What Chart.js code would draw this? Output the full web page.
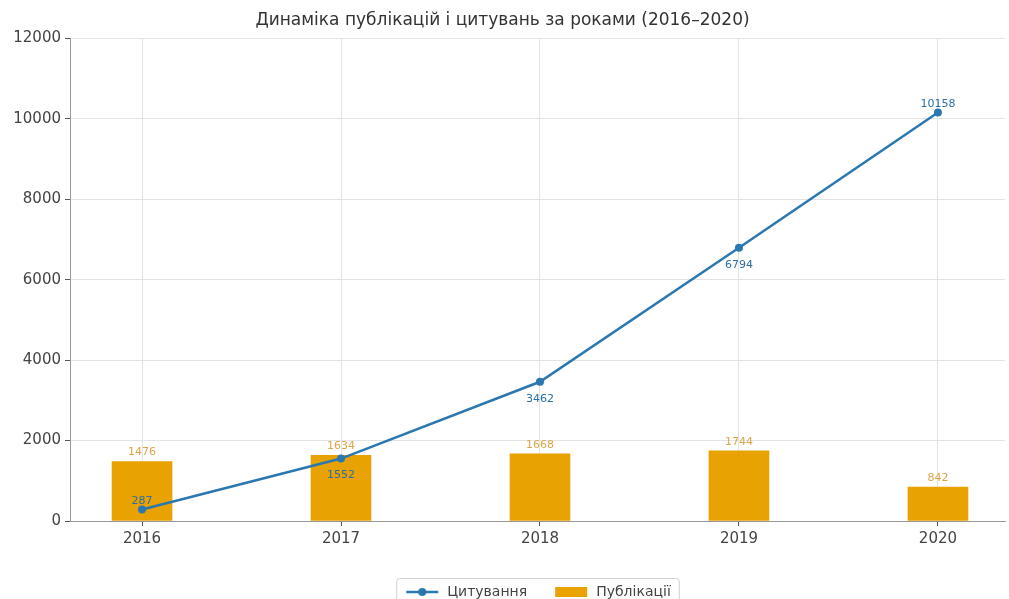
<!DOCTYPE html>
<html>
<head>
<meta charset="utf-8">
<script src="https://cdn.jsdelivr.net/npm/chart.js@4"></script>
<style>
  html, body { margin: 0; padding: 0; background: #fff; }
  #wrap { width: 1009px; height: 599px; }
</style>
</head>
<body>
<div id="wrap"><canvas id="myChart"></canvas></div>
<script>
// Data
const years = [2016, 2017, 2018, 2019, 2020];
const citations = [287, 1552, 3462, 6794, 10158];
const publications = [1476, 1634, 1668, 1744, 842];
const yTicks = [0, 2000, 4000, 6000, 8000, 10000, 12000];

const lineColor = "#2b78b0";
const barColor = "#e8a202";

// Small legend icons (line with a dot, and a filled box)
function lineIcon() {
    let c = document.createElement("canvas");
    c.width = 36; c.height = 12;
    let ctx = c.getContext("2d");
    ctx.strokeStyle = lineColor;
    ctx.lineWidth = 2.5;
    ctx.beginPath(); ctx.moveTo(2, 6); ctx.lineTo(34, 6); ctx.stroke();
    ctx.fillStyle = lineColor;
    ctx.beginPath(); ctx.arc(18, 6, 4, 0, Math.PI * 2); ctx.fill();
    return c;
}
function boxIcon() {
    let c = document.createElement("canvas");
    c.width = 36; c.height = 12;
    let ctx = c.getContext("2d");
    ctx.fillStyle = barColor;
    ctx.fillRect(2, 1, 32, 10);
    return c;
}

// Value labels next to bars and points
const valueLabels = {
    id: "valueLabels",
    afterDatasetsDraw(chart) {
        const ctx = chart.ctx;
        ctx.save();
        ctx.font = "11px 'DejaVu Sans'";
        ctx.textAlign = "center";
        ctx.textBaseline = "middle";

        let barMeta = chart.getDatasetMeta(1);
        barMeta.data.forEach((el, i) => {
            ctx.fillStyle = "#d9a64a";
            ctx.fillText(publications[i], el.x, el.y - 9);
        });

        let lineMeta = chart.getDatasetMeta(0);
        // 2016 and 2020 labels sit above the point, the rest below
        let above = [true, false, false, false, true];
        lineMeta.data.forEach((el, i) => {
            ctx.fillStyle = "#2c6fa6";
            let dy = above[i] ? -8 : 17;
            ctx.fillText(citations[i], el.x, el.y + dy);
        });
        ctx.restore();
    }
};

// Legend is centred under the plot area (not the canvas), with a frame
const legendFrame = {
    id: "legendFrame",
    afterLayout(chart) {
        const lg = chart.legend;
        const area = chart.chartArea;
        let shift = (area.left + area.right) / 2 - (lg.left + lg.right) / 2;
        lg.left += shift;
        lg.right += shift;
    },
    afterDraw(chart) {
        const lg = chart.legend;
        if (!lg || !lg.legendHitBoxes.length) return;
        let boxes = lg.legendHitBoxes;
        let x0 = boxes[0].left - 8;
        let x1 = boxes[boxes.length - 1].left + boxes[boxes.length - 1].width + 8;
        let y0 = boxes[0].top - 7;
        let y1 = boxes[0].top + boxes[0].height + 8;
        const ctx = chart.ctx;
        ctx.save();
        ctx.strokeStyle = "#d0d0d0";
        ctx.lineWidth = 1;
        ctx.beginPath();
        ctx.roundRect(x0 + 0.5, y0 + 0.5, x1 - x0, y1 - y0, 3);
        ctx.stroke();
        ctx.restore();
    }
};

const icons = [lineIcon(), boxIcon()];

let chart = new Chart("myChart", {
    type: "bar",
    data: {
        datasets: [{
            type: "line",
            label: "Цитування",
            data: years.map((y, i) => ({ x: y, y: citations[i] })),
            borderColor: lineColor,
            backgroundColor: lineColor,
            borderWidth: 2.5,
            pointRadius: 4,
            pointBackgroundColor: lineColor,
            pointBorderWidth: 0,
            tension: 0,
            order: 0
        }, {
            type: "bar",
            label: "Публікації",
            data: years.map((y, i) => ({ x: y, y: publications[i] })),
            backgroundColor: barColor,
            barThickness: 60,
            order: 1
        }]
    },
    options: {
        responsive: true,
        maintainAspectRatio: false,
        animation: false,
        layout: { padding: { left: 0, right: 4, top: 0, bottom: -10 } },
        plugins: {
            title: {
                display: true,
                text: "Динаміка публікацій і цитувань за роками (2016–2020)",
                color: "#333",
                font: { family: "'DejaVu Sans'", size: 17, weight: "normal" },
                padding: { top: 10, bottom: 8 }
            },
            legend: {
                position: "bottom",
                labels: {
                    usePointStyle: true,
                    pointStyleWidth: 36,
                    boxHeight: 12,
                    padding: 26,
                    color: "#444",
                    font: { family: "'DejaVu Sans'", size: 14 },
                    generateLabels: function (chart) {
                        return chart.data.datasets.map((ds, i) => ({
                            text: ds.label,
                            pointStyle: icons[i],
                            datasetIndex: i,
                            fontColor: "#444",
                            lineWidth: 0
                        }));
                    }
                }
            },
            tooltip: { enabled: false }
        },
        scales: {
            x: {
                type: "linear",
                offset: false,
                min: 2015.638,
                max: 2020.337,
                afterBuildTicks: s => { s.ticks = years.map(v => ({ value: v })); },
                afterFit: s => { s.height = 38; },
                ticks: {
                    callback: v => String(v),
                    color: "#444",
                    font: { family: "'DejaVu Sans'", size: 15 },
                    padding: 4
                },
                grid: { offset: false, color: "#e3e3e3", tickLength: 5, tickColor: "#555" },
                border: { color: "#999" }
            },
            y: {
                min: 0,
                max: 12000,
                afterBuildTicks: s => { s.ticks = yTicks.map(v => ({ value: v })); },
                afterFit: s => { s.width = 70; },
                ticks: {
                    callback: v => String(v),
                    color: "#444",
                    font: { family: "'DejaVu Sans'", size: 15 },
                    padding: 4
                },
                grid: { color: "#e3e3e3", tickLength: 5, tickColor: "#555" },
                border: { color: "#999" }
            }
        }
    },
    plugins: [valueLabels, legendFrame]
});
</script>
</body>
</html>
